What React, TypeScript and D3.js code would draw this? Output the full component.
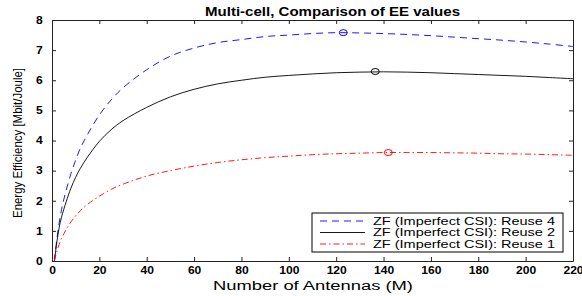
import React, { useEffect, useRef } from 'react'
import * as d3 from 'd3'

// number of antennas M
const antennas = [1, 2, 3, 4, 5, 6, 8, 10, 12, 15, 20, 25, 30, 40, 50, 60, 70, 80, 90, 100, 110, 120, 130, 140, 150, 160, 170, 180, 190, 200, 210, 220]

// EE values [Mbit/Joule]
const reuse4 = [0, 0.7, 1.25, 1.7, 2.05, 2.35, 2.9, 3.35, 3.75, 4.2, 4.85, 5.35, 5.75, 6.35, 6.8, 7.07, 7.25, 7.35, 7.45, 7.5, 7.55, 7.58, 7.57, 7.55, 7.52, 7.48, 7.43, 7.38, 7.33, 7.27, 7.2, 7.12]
const reuse2 = [0, 0.6, 1.1, 1.45, 1.72, 1.97, 2.42, 2.78, 3.08, 3.45, 3.97, 4.36, 4.66, 5.1, 5.45, 5.7, 5.88, 6.0, 6.1, 6.16, 6.21, 6.25, 6.27, 6.28, 6.27, 6.25, 6.22, 6.19, 6.16, 6.13, 6.09, 6.05]
const reuse1 = [0, 0.3, 0.55, 0.75, 0.9, 1.05, 1.3, 1.5, 1.67, 1.88, 2.15, 2.38, 2.55, 2.82, 3.0, 3.15, 3.27, 3.36, 3.43, 3.48, 3.53, 3.56, 3.58, 3.6, 3.6, 3.6, 3.59, 3.58, 3.56, 3.55, 3.53, 3.51]

// maxima markers [M, EE]
const peaks = [[123, 7.58], [136.5, 6.29], [142, 3.6]]

const seriesNames = ['ZF (Imperfect CSI): Reuse 4', 'ZF (Imperfect CSI): Reuse 2', 'ZF (Imperfect CSI): Reuse 1']
const colors = ['#0000ff', '#000000', '#ff0000']
const dashes = ['7,5', null, '6,3,1.5,3']

const xTicks = d3.range(0, 221, 20)
const yTicks = d3.range(0, 9, 1)

export default function App() {
  const ref = useRef(null)

  useEffect(() => {
    document.body.style.margin = '0'
    const width = 582
    const height = 296
    const margin = { top: 20, right: 9, bottom: 35, left: 52 }

    const root = d3.select(ref.current)
    root.selectAll('*').remove()

    const svg = root.append('svg')
      .attr('width', width)
      .attr('height', height)
      .style('display', 'block')
      .style('background', '#fff')
      .style('font-family', '"Liberation Sans", Arial, sans-serif')

    const x = d3.scaleLinear().domain([0, 220]).range([margin.left, width - margin.right])
    const y = d3.scaleLinear().domain([0, 8]).range([height - margin.bottom, margin.top])

    // axes with inward ticks
    const tickLen = 4
    svg.append('g')
      .attr('transform', `translate(0,${y(0)})`)
      .call(d3.axisBottom(x).tickValues(xTicks).tickSizeInner(-tickLen).tickSizeOuter(0).tickPadding(6))
    svg.append('g')
      .attr('transform', `translate(0,${y(8)})`)
      .call(d3.axisTop(x).tickValues(xTicks).tickSizeInner(-tickLen).tickSizeOuter(0).tickFormat(() => ''))
    svg.append('g')
      .attr('transform', `translate(${x(0)},0)`)
      .call(d3.axisLeft(y).tickValues(yTicks).tickSizeInner(-tickLen).tickSizeOuter(0).tickPadding(8))
    svg.append('g')
      .attr('transform', `translate(${x(220)},0)`)
      .call(d3.axisRight(y).tickValues(yTicks).tickSizeInner(-tickLen).tickSizeOuter(0).tickFormat(() => ''))

    svg.selectAll('.domain').attr('stroke', '#222')
    svg.selectAll('.tick line').attr('stroke', '#222')
    svg.selectAll('.tick text')
      .attr('fill', '#000')
      .attr('transform', 'scale(1.15,1)')
      .style('font-size', '10.5px')
      .style('font-weight', 'bold')
      .style('font-family', '"Liberation Sans", Arial, sans-serif')

    // curves
    const line = d3.line()
      .x(d => x(d[0]))
      .y(d => y(d[1]))
      .curve(d3.curveCatmullRom.alpha(0.5))

    ;[reuse4, reuse2, reuse1].forEach((vals, i) => {
      const pts = antennas.map((m, j) => [m, vals[j]])
      svg.append('path')
        .attr('d', line(pts))
        .attr('fill', 'none')
        .attr('stroke', colors[i])
        .attr('stroke-width', 0.9)
        .attr('stroke-dasharray', dashes[i])
    })

    svg.selectAll('.peak')
      .data(peaks)
      .enter()
      .append('ellipse')
      .attr('cx', d => x(d[0]))
      .attr('cy', d => y(d[1]))
      .attr('rx', 4)
      .attr('ry', 3)
      .attr('fill', 'none')
      .attr('stroke', (d, i) => colors[i])
      .attr('stroke-width', 1)

    // title and labels
    svg.append('text')
      .attr('x', 205)
      .attr('y', 16)
      .attr('textLength', 255)
      .attr('lengthAdjust', 'spacingAndGlyphs')
      .style('font-size', '12px')
      .style('font-weight', 'bold')
      .text('Multi-cell, Comparison of EE values')

    svg.append('text')
      .attr('x', 213)
      .attr('y', 290)
      .attr('textLength', 200)
      .attr('lengthAdjust', 'spacingAndGlyphs')
      .style('font-size', '12px')
      .text('Number of Antennas (M)')

    svg.append('text')
      .attr('transform', `translate(22,218) rotate(-90)`)
      .attr('textLength', 150)
      .attr('lengthAdjust', 'spacingAndGlyphs')
      .style('font-size', '13px')
      .text('Energy Efficiency [Mbit/Joule]')

    // legend
    const lg = svg.append('g').attr('transform', 'translate(312,213)')
    lg.append('rect')
      .attr('width', 251)
      .attr('height', 39)
      .attr('fill', '#fff')
      .attr('stroke', '#000')
      .attr('stroke-width', 1)
    seriesNames.forEach((name, i) => {
      const ly = 8 + i * 11.5
      lg.append('line')
        .attr('x1', 8)
        .attr('x2', 53)
        .attr('y1', ly)
        .attr('y2', ly)
        .attr('stroke', colors[i])
        .attr('stroke-width', 0.9)
        .attr('stroke-dasharray', dashes[i])
      lg.append('text')
        .attr('x', 61)
        .attr('y', ly + 3.5)
        .attr('textLength', 182)
        .attr('lengthAdjust', 'spacingAndGlyphs')
        .style('font-size', '10.5px')
        .text(name)
    })
  }, [])

  return <div ref={ref}></div>
}
